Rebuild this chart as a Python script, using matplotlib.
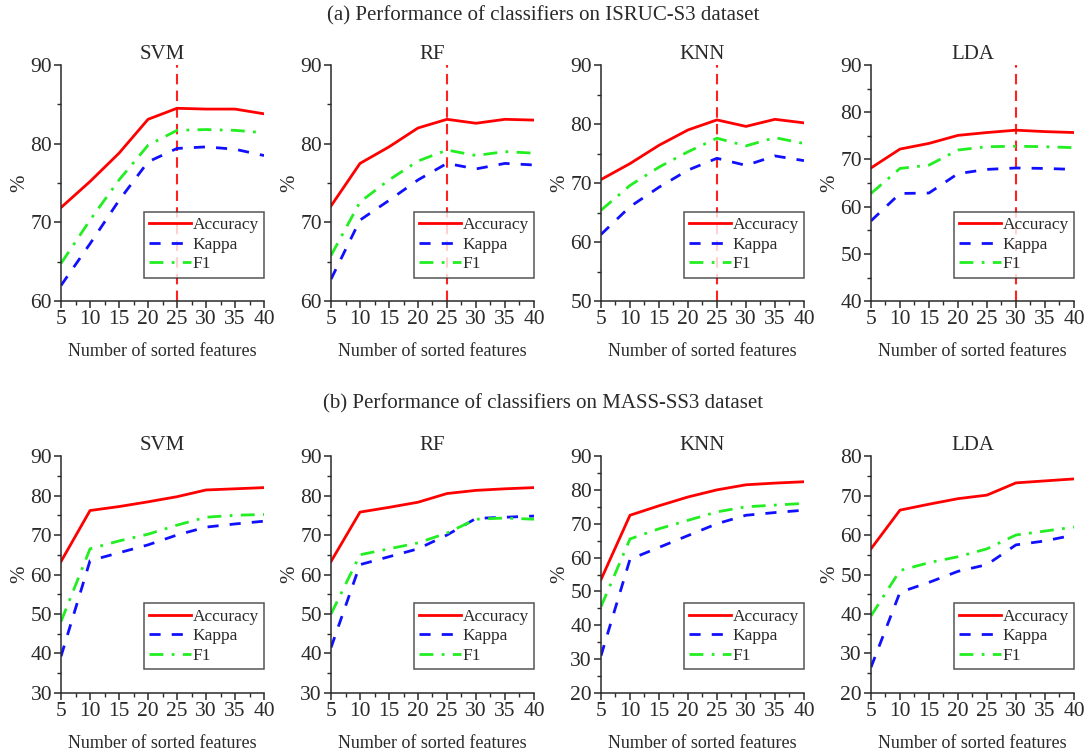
import matplotlib.pyplot as plt
from matplotlib.ticker import MultipleLocator

plt.rcParams['font.family'] = ['Liberation Serif', 'DejaVu Serif']

n_features = [5, 10, 15, 20, 25, 30, 35, 40]
classifiers = ["SVM", "RF", "KNN", "LDA"]

# (a) ISRUC-S3
isruc_acc = {
    "SVM": [71.9, 75.2, 78.8, 83.1, 84.5, 84.4, 84.4, 83.8],
    "RF":  [72.1, 77.5, 79.6, 82.0, 83.1, 82.6, 83.1, 83.0],
    "KNN": [70.6, 73.3, 76.4, 79.0, 80.7, 79.6, 80.8, 80.2],
    "LDA": [68.2, 72.2, 73.4, 75.1, 75.7, 76.2, 75.9, 75.7],
}
isruc_kappa = {
    "SVM": [62.0, 67.3, 72.8, 77.7, 79.4, 79.6, 79.3, 78.5],
    "RF":  [62.8, 70.3, 72.8, 75.4, 77.5, 76.8, 77.5, 77.3],
    "KNN": [61.3, 66.0, 69.3, 72.2, 74.2, 73.0, 74.6, 73.8],
    "LDA": [57.0, 62.8, 62.9, 67.0, 67.9, 68.2, 68.1, 67.9],
}
isruc_f1 = {
    "SVM": [64.8, 70.3, 75.4, 79.8, 81.7, 81.8, 81.7, 81.4],
    "RF":  [65.8, 72.6, 75.4, 77.8, 79.2, 78.5, 79.0, 78.8],
    "KNN": [65.4, 69.6, 72.7, 75.3, 77.6, 76.3, 77.7, 76.7],
    "LDA": [62.8, 68.1, 68.8, 72.0, 72.7, 72.8, 72.7, 72.5],
}
isruc_best = {"SVM": 25, "RF": 25, "KNN": 25, "LDA": 30}
isruc_ylim = {"SVM": (60, 90), "RF": (60, 90), "KNN": (50, 90), "LDA": (40, 90)}

# (b) MASS-SS3
mass_acc = {
    "SVM": [63.3, 76.2, 77.2, 78.4, 79.7, 81.4, 81.7, 82.0],
    "RF":  [63.3, 75.8, 77.0, 78.3, 80.5, 81.3, 81.7, 82.0],
    "KNN": [53.5, 72.5, 75.3, 77.9, 80.0, 81.5, 82.0, 82.4],
    "LDA": [56.5, 66.3, 67.8, 69.2, 70.1, 73.2, 73.7, 74.2],
}
mass_kappa = {
    "SVM": [39.3, 63.5, 65.5, 67.5, 70.0, 72.0, 72.8, 73.5],
    "RF":  [41.5, 62.5, 64.5, 66.5, 70.0, 74.2, 74.5, 74.8],
    "KNN": [31.0, 59.5, 63.0, 66.5, 70.0, 72.5, 73.3, 74.0],
    "LDA": [26.5, 45.5, 48.0, 50.8, 52.5, 57.5, 58.5, 60.0],
}
mass_f1 = {
    "SVM": [48.1, 66.5, 68.5, 70.2, 72.5, 74.5, 75.0, 75.2],
    "RF":  [50.0, 65.0, 66.5, 68.0, 70.5, 74.0, 74.3, 74.0],
    "KNN": [45.5, 65.5, 68.5, 71.0, 73.5, 75.0, 75.5, 76.0],
    "LDA": [39.5, 51.0, 53.0, 54.5, 56.5, 60.0, 61.0, 62.0],
}
mass_ylim = {"SVM": (30, 90), "RF": (30, 90), "KNN": (20, 90), "LDA": (20, 80)}

txt_col = '#2a2a2a'


def style_ax(ax, ylim, title):
    ax.set_xlim(5, 40)
    ax.set_ylim(*ylim)
    ax.xaxis.set_major_locator(MultipleLocator(5))
    ax.xaxis.set_minor_locator(MultipleLocator(2.5))
    ax.yaxis.set_major_locator(MultipleLocator(10))
    ax.yaxis.set_minor_locator(MultipleLocator(5))
    ax.spines['top'].set_visible(False)
    ax.spines['right'].set_visible(False)
    for s in ('left', 'bottom'):
        ax.spines[s].set_linewidth(1.1)
        ax.spines[s].set_color(txt_col)
    ax.tick_params(which='major', direction='out', length=5, width=1.1,
                   labelsize=15.5, colors=txt_col, pad=1.5)
    ax.tick_params(which='minor', direction='out', length=3, width=1, colors=txt_col)
    ax.set_title(title, fontsize=15, pad=4, color=txt_col)
    ax.set_ylabel("%", fontsize=15, labelpad=1, color=txt_col)
    ax.set_xlabel("Number of sorted features", fontsize=13, labelpad=10, color=txt_col)


def plot_panel(ax, acc, kappa, f1, ylim, title, best=None):
    if best is not None:
        ax.axvline(best, color='#ff2020', lw=1.5, linestyle=(0, (5, 3)), zorder=1)
    ax.plot(n_features, acc, color='#ff0000', lw=2, label="Accuracy")
    ax.plot(n_features, kappa, color='#1010ff', lw=2, linestyle=(0, (4, 4)), label="Kappa")
    ax.plot(n_features, f1, color='#22ee22', lw=2, linestyle=(0, (5, 3, 1, 3)), label="F1")
    style_ax(ax, ylim, title)
    leg = ax.legend(loc='lower right', bbox_to_anchor=(1.0, 0.1), fontsize=12.5,
                    frameon=True, fancybox=False, handlelength=2.4,
                    handletextpad=0.1, borderpad=0.3, labelspacing=0.2,
                    borderaxespad=0)
    leg.get_frame().set_edgecolor(txt_col)
    leg.get_frame().set_linewidth(1.1)
    for t in leg.get_texts():
        t.set_color(txt_col)


fig = plt.figure(figsize=(10.86, 7.53), dpi=100)
lefts = [0.0562, 0.3048, 0.5534, 0.8020]
w = 0.1869

for i, name in enumerate(classifiers):
    ax = fig.add_axes([lefts[i], 0.600, w, 0.3137])
    plot_panel(ax, isruc_acc[name], isruc_kappa[name], isruc_f1[name],
               isruc_ylim[name], name, isruc_best[name])
    ax2 = fig.add_axes([lefts[i], 0.0797, w, 0.3147])
    plot_panel(ax2, mass_acc[name], mass_kappa[name], mass_f1[name],
               mass_ylim[name], name)

fig.text(0.5, 0.979, "(a) Performance of classifiers on ISRUC-S3 dataset",
         ha='center', va='center', fontsize=15, color=txt_col)
fig.text(0.5, 0.464, "(b) Performance of classifiers on MASS-SS3 dataset",
         ha='center', va='center', fontsize=15, color=txt_col)

fig.savefig("out.png", dpi=100)
